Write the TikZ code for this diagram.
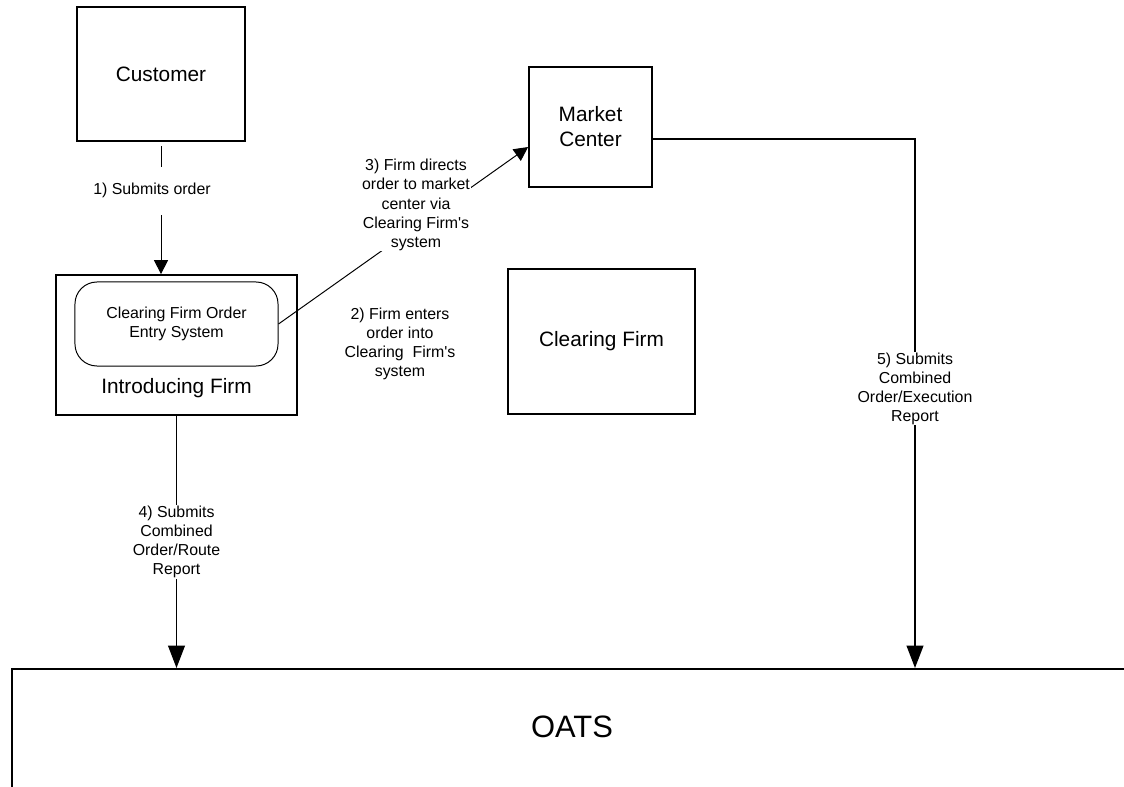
\documentclass[tikz,border=0pt]{standalone}
\usepackage{fontspec}
\setmainfont{Liberation Sans}
\usetikzlibrary{positioning, arrows.meta}

\begin{document}
\begin{tikzpicture}[x=0.025cm, y=-0.025cm,
        box/.style={draw, line width=1.2pt, align=center, font=\fontsize{14.8}{17.7}\selectfont},
        lbl/.style={fill=white, inner sep=0.5pt, align=center, font=\fontsize{11.3}{13.6}\selectfont},
        thin arrow/.style={line width=0.7pt, -{Triangle[length=10pt, width=10pt]}},
        thick arrow/.style={line width=1.1pt, -{Triangle[length=16pt, width=12pt]}}]
    \useasboundingbox (0,0) rectangle (1124,787);

    \node [box, minimum width=4.2cm, minimum height=3.35cm] (cust) at (161,74) {Customer};
    \node [box, minimum width=6.025cm, minimum height=3.5cm] (intro) at (176.5,345) {};
    \node [draw, line width=0.7pt, rounded corners=0.55cm, minimum width=5.075cm, minimum height=2.1cm,
        align=center, font=\fontsize{11.3}{13}\selectfont] (entry) at (176.5,324) {Clearing Firm Order\\Entry System};
    \node [anchor=base, font=\fontsize{14.8}{17.7}\selectfont] (introname) at (176.5,393) {Introducing Firm};
    \node [box, minimum width=3.075cm, minimum height=3cm] (mc) at (590.5,127) {Market\\Center};
    \node [box, minimum width=4.675cm, minimum height=3.625cm] (clear) at (601.5,341.5) {Clearing Firm};
    \node [box, anchor=north west, minimum width=30cm, minimum height=5cm] (oats) at (11,668) {};
    \node [font=\fontsize{22}{26}\selectfont] (oatsname) at (572,726.5) {OATS};
    \node [lbl] (enter) at (400,344) {2) Firm enters\\order into\\Clearing~ Firm\textquotesingle s\\system};
    \coordinate (exec) at (915,668);

    \draw [thin arrow, shorten <=3pt] (cust) -- node [lbl, pos=0.37, inner ysep=12pt, xshift=-0.225cm] {1) Submits order} (cust |- intro.north);
    \draw [thin arrow] (entry.east) -- ([yshift=-0.5cm]mc.west)
        node [lbl] (direct) at (416,205) {3) Firm directs\\order to market\\center via\\Clearing Firm\textquotesingle s\\system};
    \draw [thick arrow] (intro) -- node [lbl] {4) Submits\\Combined\\Order/Route\\Report} (intro |- oats.north);
    \draw [thick arrow] ([yshift=-0.3cm]mc.east) -| node [lbl, pos=0.736] {5) Submits\\Combined\\Order/Execution\\Report} (exec);
\end{tikzpicture}
\end{document}
